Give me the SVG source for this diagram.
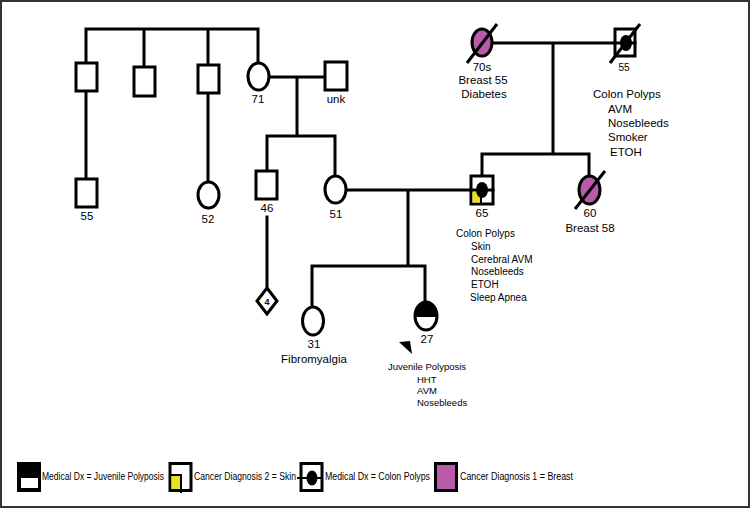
<svg xmlns="http://www.w3.org/2000/svg" width="750" height="508" viewBox="0 0 750 508">
<style>
.ln{stroke:#000;stroke-width:3;fill:none;stroke-linecap:square}
.nd{stroke:#000;stroke-width:3;fill:#fff}
.pu{fill:#b95aab}
.sl{stroke:#000;stroke-width:3}
.t{font-family:"Liberation Sans",Arial,sans-serif;font-size:11.5px;fill:#000}
.s{font-family:"Liberation Sans",Arial,sans-serif;font-size:10px;fill:#000}
.j{font-family:"Liberation Sans",Arial,sans-serif;font-size:9.5px;fill:#000}
.lg{font-family:"Liberation Sans",Arial,sans-serif;font-size:10px;fill:#000}
.m{text-anchor:middle}
</style>
<rect x="1" y="1" width="748" height="506" fill="#fff" stroke="#333" stroke-width="2"/>

<g id="connectors">
  <path class="ln" d="M86,29 H258 M86,29 V63 M144,29 V67 M208,29 V65 M258,29 V63"/>
  <path class="ln" d="M86,91 V179 M208,93 V182"/>
  <path class="ln" d="M269,77 H325 M297,77 V136 M267,136 H335 M267,136 V171 M335,136 V176"/>
  <path class="ln" d="M267,217 V288"/>
  <path class="ln" d="M346,190 H482 M408,190 V266 M312,266 H425 M312,266 V307 M425,266 V302"/>
  <path class="ln" d="M492,43 H626 M553,43 V154 M482,154 H589 M482,154 V176 M589,154 V176"/>
</g>

<g id="n_gen1_son1"><rect class="nd" x="76" y="63" width="21" height="28"/></g>
<g id="n_gen1_son2"><rect class="nd" x="134" y="67" width="21" height="29"/></g>
<g id="n_gen1_son3"><rect class="nd" x="198" y="65" width="21" height="28"/></g>
<g id="n_gm71"><ellipse class="nd" cx="258.5" cy="76.5" rx="10.5" ry="13.5"/><text class="t m" x="258" y="103">71</text></g>
<g id="n_unk"><rect class="nd" x="325" y="62" width="22" height="28"/><text class="t m" x="336" y="103">unk</text></g>
<g id="n_55"><rect class="nd" x="76" y="179" width="21" height="28"/><text class="t m" x="87" y="220">55</text></g>
<g id="n_52"><ellipse class="nd" cx="208.5" cy="195" rx="10.5" ry="13"/><text class="t m" x="208" y="223">52</text></g>
<g id="n_46"><rect class="nd" x="256" y="171" width="21" height="28"/><text class="t m" x="267" y="212">46</text></g>
<g id="n_4"><polygon class="nd" points="267,288 277,301 267,314 257,301"/><text class="m" x="267" y="305" font-family="Liberation Sans,Arial,sans-serif" font-size="9" font-weight="bold">4</text></g>
<g id="n_51"><ellipse class="nd" cx="335.5" cy="189.5" rx="10.5" ry="13.5"/><text class="t m" x="336" y="218">51</text></g>

<g id="n_70s">
  <ellipse class="nd pu" cx="482" cy="42.5" rx="10" ry="13.5"/>
  <line class="sl" x1="467" y1="63" x2="497" y2="24"/>
  <text class="t m" x="482" y="71">70s</text>
  <text class="t m" x="483" y="84">Breast 55</text>
  <text class="t m" x="484" y="98">Diabetes</text>
</g>
<g id="n_gf55">
  <rect class="nd" x="615" y="29" width="20" height="27"/>
  <line class="ln" x1="615" y1="43" x2="635" y2="43"/>
  <ellipse cx="626" cy="43" rx="6" ry="8" fill="#000"/>
  <line class="sl" x1="610" y1="63" x2="640" y2="24"/>
  <text class="s m" x="624" y="71">55</text>
  <text class="t" x="593" y="98">Colon Polyps</text>
  <text class="t" x="608" y="113">AVM</text>
  <text class="t" x="608" y="127">Nosebleeds</text>
  <text class="t" x="608" y="141">Smoker</text>
  <text class="t" x="610" y="156">ETOH</text>
</g>
<g id="n_65">
  <rect class="nd" x="471" y="176" width="22" height="28"/>
  <rect x="472.5" y="192" width="8" height="10.5" fill="#e6e21e"/>
  <line class="ln" x1="471" y1="190" x2="493" y2="190"/>
  <line x1="481" y1="195" x2="481" y2="205" stroke="#000" stroke-width="2"/>
  <ellipse cx="482" cy="190" rx="6" ry="8" fill="#000"/>
  <text class="t m" x="482" y="217">65</text>
  <text class="s" x="456" y="237">Colon Polyps</text>
  <text class="s" x="471" y="250">Skin</text>
  <text class="s" x="471" y="263">Cerebral AVM</text>
  <text class="s" x="471" y="275">Nosebleeds</text>
  <text class="s" x="471" y="288">ETOH</text>
  <text class="s" x="470" y="301">Sleep Apnea</text>
</g>
<g id="n_60">
  <ellipse class="nd pu" cx="589.5" cy="190" rx="10.5" ry="14"/>
  <line class="sl" x1="575" y1="209" x2="605" y2="171"/>
  <text class="t m" x="590" y="217">60</text>
  <text class="t m" x="590" y="232">Breast 58</text>
</g>
<g id="n_31">
  <ellipse class="nd" cx="313" cy="321" rx="10.5" ry="14"/>
  <text class="t m" x="314" y="348">31</text>
  <text class="t m" x="314" y="363">Fibromyalgia</text>
</g>
<g id="n_27">
  <ellipse class="nd" cx="426" cy="316" rx="11" ry="14"/>
  <path d="M415,317 A11,14 0 0 1 437,317 Z" fill="#000"/>
  <polygon points="399,342 410,341 412,354" fill="#000"/>
  <text class="t m" x="427" y="343">27</text>
  <text class="j m" x="427" y="370">Juvenile Polyposis</text>
  <text class="j" x="417" y="383">HHT</text>
  <text class="j" x="417" y="394">AVM</text>
  <text class="j" x="417" y="406">Nosebleeds</text>
</g>

<g id="legend">
  <g id="lg_jp">
    <rect x="18.5" y="463.5" width="21" height="27" fill="#000" stroke="#000" stroke-width="3"/>
    <rect x="21" y="478" width="17" height="10" fill="#fff"/>
    <text class="lg" x="42" y="480" textLength="122" lengthAdjust="spacingAndGlyphs">Medical Dx = Juvenile Polyposis</text>
  </g>
  <g id="lg_skin">
    <rect x="170" y="463.5" width="21" height="27" fill="#fff" stroke="#000" stroke-width="3"/>
    <rect x="171.5" y="476" width="9.5" height="13" fill="#e6e21e"/>
    <path d="M170,475 H181 V493" fill="none" stroke="#000" stroke-width="2"/>
    <text class="lg" x="194" y="480" textLength="102" lengthAdjust="spacingAndGlyphs">Cancer Diagnosis 2 = Skin</text>
  </g>
  <g id="lg_cp">
    <rect x="301" y="463.5" width="21" height="27" fill="#fff" stroke="#000" stroke-width="3"/>
    <line x1="297" y1="478" x2="322" y2="478" stroke="#000" stroke-width="2"/>
    <ellipse cx="312" cy="478" rx="5.5" ry="7.5" fill="#000"/>
    <text class="lg" x="325" y="480" textLength="105" lengthAdjust="spacingAndGlyphs">Medical Dx = Colon Polyps</text>
  </g>
  <g id="lg_br">
    <rect x="435.5" y="463.5" width="21" height="27" fill="#b95aab" stroke="#000" stroke-width="3"/>
    <text class="lg" x="460" y="480" textLength="113" lengthAdjust="spacingAndGlyphs">Cancer Diagnosis 1 = Breast</text>
  </g>
</g>
</svg>
